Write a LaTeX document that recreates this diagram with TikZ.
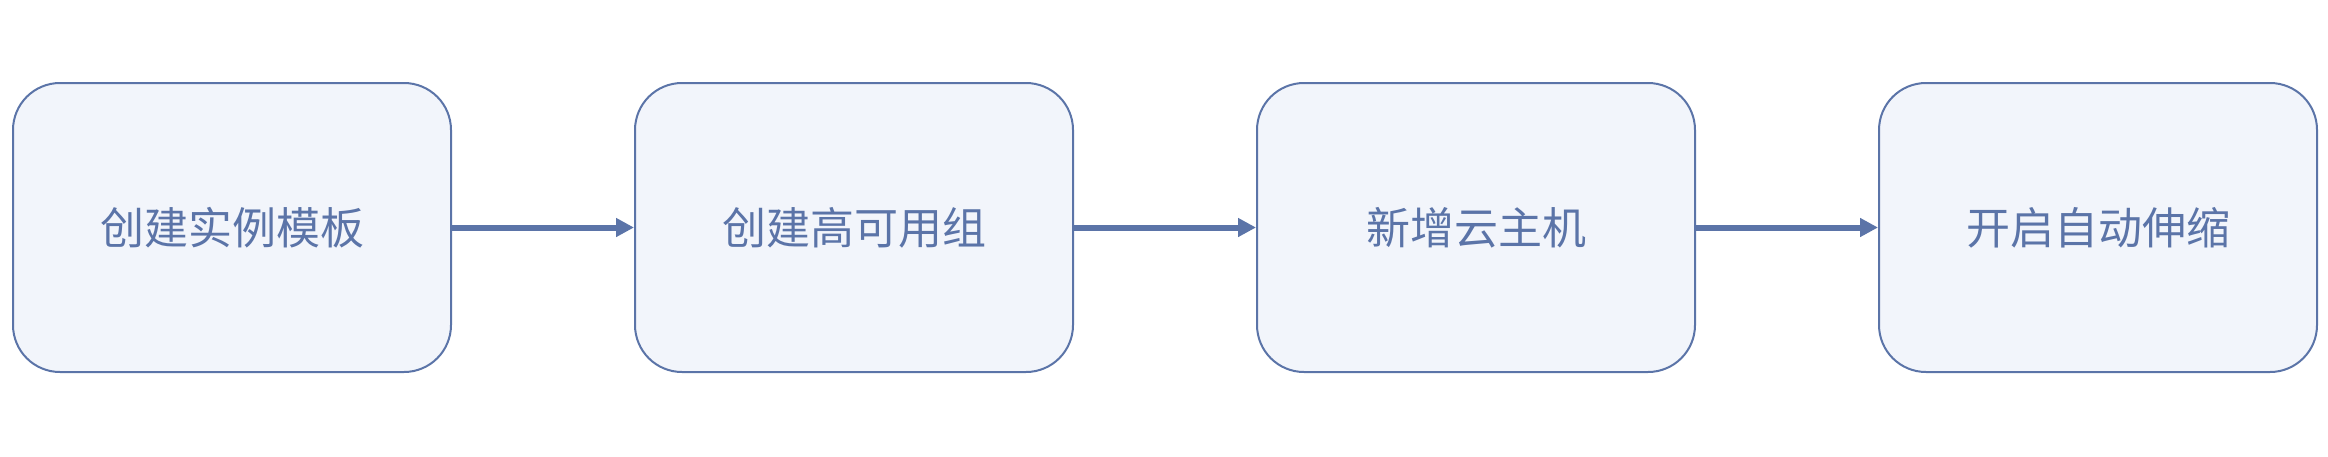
\documentclass[tikz,border=0pt]{standalone}
\usepackage{fontspec}
\setmainfont{Noto Sans CJK SC}
\usetikzlibrary{positioning,arrows.meta}
\definecolor{boxline}{HTML}{5B74A8}
\definecolor{boxfill}{HTML}{F2F5FB}
\tikzstyle{block}=[draw=boxline, fill=boxfill, line width=2pt, rounded corners=47pt, minimum width=438pt, minimum height=289pt, text=boxline, font=\fontsize{44pt}{52pt}\selectfont]
\tikzstyle{arrow}=[draw=boxline, line width=6pt, -{Triangle[length=18pt,width=18pt]}]
\begin{document}
\begin{tikzpicture}[x=1pt,y=-1pt,node distance=182pt]
\useasboundingbox (0,0) rectangle (2328,456);
\node (tpl) [block] at (232,227.5) {创建实例模板};
\node (grp) [block, right =of tpl] {创建高可用组};
\node (vm) [block, right =of grp] {新增云主机};
\node (scale) [block, right =of vm] {开启自动伸缩};
\draw[arrow] (tpl) -- (grp);
\draw[arrow] (grp) -- (vm);
\draw[arrow] (vm) -- (scale);
\end{tikzpicture}
\end{document}
